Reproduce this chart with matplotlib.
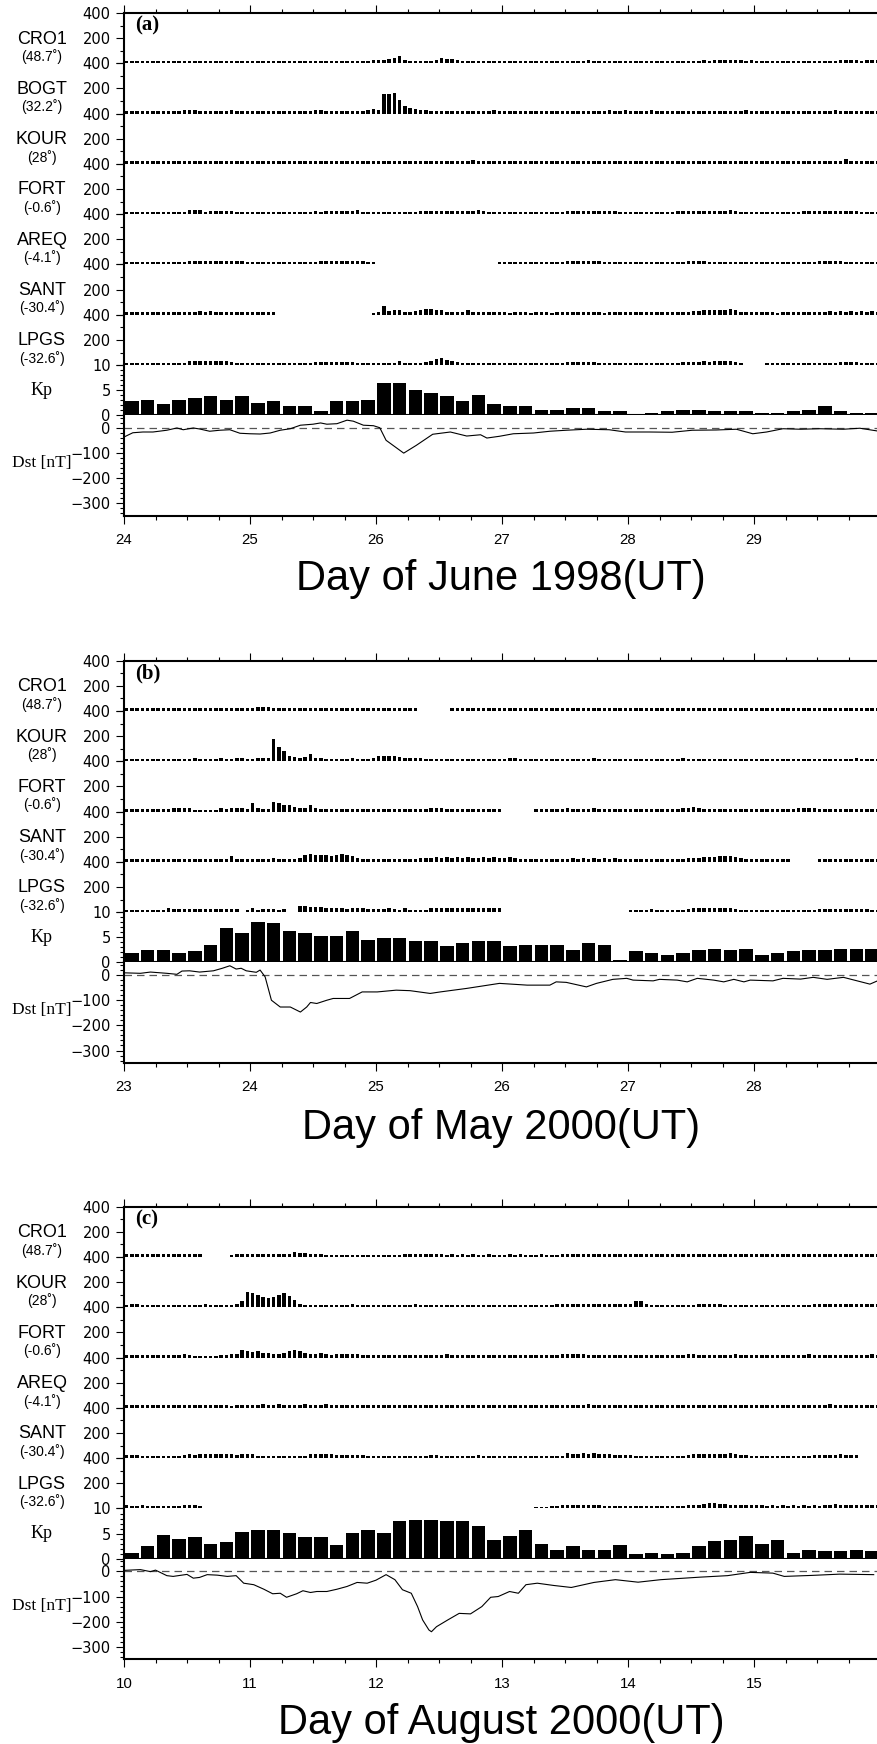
import numpy as np
import matplotlib
matplotlib.use('Agg')
import matplotlib.pyplot as plt
from matplotlib.ticker import MultipleLocator, FixedLocator, FuncFormatter

# hourly station values, 6 days x 24 h per string
# one char per hour: base-36 digit in steps of 5 units, '.' = no data
CRO1_a = "444434 443444 444444 444444  444434 444443 444444 444445  6578b5 443446 877644 443444  444434 444444 444454 444444  444444 434444 445455 555545  444444 444434 444455 554555"
BOGT_a = "444444 444445 554444 445444  444444 444444 554444 444458  5vvwlc 976544 444444 444464  444444 444444 444444 446446  444454 444444 444444 444464  444444 444444 444544 444444"
KOUR_a = "444444 444444 444444 454444  444444 444444 444444 444444  444444 444444 444444 644444  444444 444444 444444 444444  444444 454444 444444 444444  444444 444444 444447 444444"
FORT_a = "444444 444444 666455 555444  444444 444444 545555 556444  444444 445555 555555 565444  444444 444444 555555 555544  444444 444555 555555 565444  444444 444555 555555 554444"
AREQ_a = "444444 444444 555555 555554  444444 444444 455555 555544  ...... ...... ...... .....4  444444 444444 555555 544444  444444 444446 665444 444444  444444 444444 555554 444444"
SANT_a = "444444 444444 556565 545444  54454. ...... ...... .....3  4e6775 568998 855557 544444  434443 444344 444455 434444  444444 444445 667787 897544  444434 444445 556565 656565"
LPGS_a = "444444 444444 666666 665444  444444 444444 555555 554444  444464 444569 b86544 444444  444444 444444 555555 444444  444444 444455 556566 6754..  ..4444 444444 444455 554444"

CRO1_b = "444444 444444 444444 444445  567645 544444 444444 444444  445454 44.... ..4444 444444  444444 444444 444445 444444  444444 444444 455444 444454  444444 444444 454444 444444"
KOUR_b = "444444 444444 454444 544554  4555zn h9767c 654444 454445  898875 555444 444444 444444  466444 444444 444445 444444  444444 444454 444444 444444  444444 444444 444444 454444"
FORT_b = "444444 444555 533333 546554  d544gd aa766a 544444 444444  444444 444466 644444 444444  ...... 444444 644445 444444  444444 444455 754444 444444  444444 445555 444444 444444"
SANT_b = "444444 444445 555554 559555  554464 4456bc bbbabc b96444  454445 546667 676767 667676  676444 444555 565656 565644  444444 444446 667789 998644  444444 4..... 444444 444444"
LPGS_b = "444444 446555 555555 5555.3  645554 5..aa9 996776 566655  556546 444466 676666 667666  ...... ...... ...... ......  444454 444445 666666 665444  444444 444444 555555 555544"

CRO1_c = "444444 444445 454... ..3444  445555 548674 443333 333333  333334 444444 434343 433433  343433 343335 444444 444444  444444 444444 455444 444444  444444 444555 554444 444444"
KOUR_c = "455444 444444 444544 4445ap  mkhfhk nib644 444444 454444  444444 454444 444444 444444  444444 444455 555555 555555  5aa644 444444 455555 444444  444444 444445 555555 555555"
FORT_c = "444444 444445 433333 4456cb  9a8765 7bcb86 675455 555444  444444 444444 454444 444444  444444 444446 555544 444444  444444 444445 544444 446444  444444 444464 444444 444454"
AREQ_c = "444554 544444 445544 443455  556556 555565 556555 554445  454445 444445 445444 444444  444444 444445 555564 444444  444455 444444 555555 555554  445444 444455 556444 444444"
SANT_c = "555333 333335 656676 666567  644444 444446 777655 555544  444444 444455 444444 454444  444444 444444 867878 766555  544444 444445 667677 787554  444444 444445 555565 55...."
LPGS_c = "644544 444446 654... ......  ...... ...... ...... ......  ...... ...... ...... ......  ...... 333445 566656 544444  444444 444445 667897 766656  554545 454545 456765 555555"

# 3-hourly Kp
KP_a = [2.8, 3.1, 2.2, 3.1, 3.5, 3.9, 3.1, 3.9, 2.5, 2.8, 1.9, 1.9, 0.9, 2.8, 2.8, 3.1,
        6.4, 6.4, 5.1, 4.4, 3.8, 2.8, 4.1, 2.2, 1.8, 1.8, 1.1, 1.1, 1.4, 1.4, 0.8, 0.8,
        0.3, 0.5, 0.8, 1.1, 1.1, 0.8, 0.8, 0.8, 0.5, 0.5, 0.8, 1.1, 1.8, 0.8, 0.5, 0.5]
KP_b = [1.8, 2.5, 2.5, 1.8, 2.2, 3.5, 6.8, 5.8, 8.1, 7.8, 6.2, 5.8, 5.2, 5.2, 6.2, 4.5,
        4.8, 4.8, 4.2, 4.2, 3.2, 3.8, 4.2, 4.2, 3.2, 3.5, 3.5, 3.5, 2.5, 3.8, 3.5, 0.4,
        2.2, 1.8, 1.5, 1.8, 2.5, 2.7, 2.5, 2.7, 1.5, 1.8, 2.2, 2.5, 2.5, 2.7, 2.7, 2.7]
KP_c = [1.2, 2.6, 4.7, 4.0, 4.4, 3.0, 3.4, 5.4, 5.8, 5.8, 5.2, 4.4, 4.4, 2.7, 5.2, 5.8,
        5.2, 7.5, 7.8, 7.8, 7.5, 7.5, 6.5, 3.8, 4.5, 5.8, 3.0, 1.8, 2.5, 1.8, 1.8, 2.7,
        0.9, 1.2, 0.9, 1.2, 2.5, 3.5, 3.8, 4.5, 3.0, 3.8, 1.2, 1.8, 1.5, 1.5, 1.8, 1.5]

# Dst (day, nT)
DST_a_t = [24.0, 24.07, 24.15, 24.23, 24.34, 24.42, 24.47, 24.55, 24.60, 24.68, 24.76, 24.84, 24.92, 25.0,
           25.08, 25.16, 25.24, 25.32, 25.40, 25.50, 25.56, 25.61, 25.69, 25.77, 25.82, 25.90, 25.98, 26.03,
           26.08, 26.22, 26.32, 26.45, 26.59, 26.72, 26.83, 26.88, 26.98, 27.09, 27.25, 27.38, 27.51, 27.67,
           27.85, 27.98, 28.17, 28.35, 28.51, 28.70, 28.86, 28.99, 29.10, 29.23, 29.37, 29.52, 29.71, 29.84, 29.98]
DST_a_v = [-36, -19, -16, -16, -9, 0, -7, 0, -4, -13, -9, -7, -21, -23,
           -24, -20, -9, -3, 11, 15, 20, 15, 17, 31, 27, 11, 9, 1,
           -49, -100, -69, -25, -16, -32, -27, -40, -33, -23, -20, -13, -9, -5,
           -7, -16, -16, -17, -9, -8, -5, -23, -16, -3, -5, -3, -5, -1, -12]
DST_b_t = [23.0, 23.13, 23.21, 23.34, 23.42, 23.46, 23.52, 23.60, 23.71, 23.78, 23.84, 23.89, 23.93, 23.97,
           24.05, 24.08, 24.12, 24.17, 24.24, 24.32, 24.40, 24.45, 24.48, 24.53, 24.61, 24.66, 24.79, 24.89,
           25.01, 25.16, 25.27, 25.43, 25.51, 25.72, 25.98, 26.20, 26.38, 26.43, 26.51, 26.67, 26.75, 26.88,
           26.99, 27.04, 27.20, 27.25, 27.39, 27.47, 27.55, 27.68, 27.76, 27.84, 27.92, 27.97, 28.15, 28.23,
           28.37, 28.47, 28.58, 28.71, 28.92, 28.98]
DST_b_v = [9, 7, 12, 7, 3, 16, 17, 12, 17, 27, 37, 24, 27, 17,
           11, 20, -7, -100, -127, -127, -147, -127, -109, -113, -100, -93, -93, -67,
           -67, -60, -62, -73, -67, -53, -33, -40, -40, -27, -29, -47, -33, -17,
           -13, -20, -23, -17, -20, -27, -13, -20, -27, -17, -27, -20, -23, -13,
           -16, -9, -17, -9, -36, -23]
DST_c_t = [10.0, 10.13, 10.21, 10.25, 10.34, 10.39, 10.50, 10.55, 10.60, 10.66, 10.74, 10.82, 10.89, 10.95,
           11.03, 11.11, 11.18, 11.24, 11.29, 11.37, 11.42, 11.48, 11.53, 11.61, 11.69, 11.77, 11.85, 11.93,
           12.0, 12.08, 12.15, 12.21, 12.28, 12.33, 12.37, 12.42, 12.44, 12.48, 12.57, 12.66, 12.75, 12.84,
           12.91, 12.97, 13.06, 13.13, 13.19, 13.28, 13.41, 13.55, 13.73, 13.90, 14.08, 14.26, 14.57, 14.79,
           14.97, 15.15, 15.24, 15.46, 15.68, 15.95]
DST_c_v = [4, 7, -1, 5, -17, -20, -12, -27, -24, -13, -15, -20, -17, -47,
           -53, -71, -89, -87, -103, -89, -77, -84, -80, -80, -71, -60, -44, -47,
           -35, -13, -33, -73, -87, -140, -193, -233, -240, -220, -193, -167, -169, -140,
           -103, -100, -80, -87, -53, -47, -56, -64, -44, -33, -43, -33, -23, -17,
           -4, -7, -20, -16, -11, -13]


def hours(s):
    s = s.replace(' ', '')
    if len(s) != 144:
        print('length', len(s))
        s = (s + '.' * 144)[:144]
    return np.array([np.nan if c == '.' else int(c, 36) * 5 for c in s], dtype=float)


W, H = 878, 1744
X0 = 124          # left axis, px
DAYPX = 126       # px per day
ROW = 50.3        # px per station band

SANS = ['Liberation Sans', 'DejaVu Sans']
SERIF = ['Liberation Serif', 'DejaVu Serif']

fig = plt.figure(figsize=(W / 100, H / 100), dpi=100)


def frac(y0, y1):
    return [X0 / W, 1 - y1 / H, (W - X0) / W, (y1 - y0) / H]


def base_style(ax):
    for s in ['right', 'bottom', 'top']:
        ax.spines[s].set_visible(False)
    ax.spines['left'].set_linewidth(1.5)
    ax.tick_params(axis='y', which='major', direction='out', length=5.5, width=0.8,
                   labelsize=10.5, pad=4)
    ax.tick_params(axis='y', which='minor', direction='out', length=3, width=0.8)
    ax.tick_params(axis='x', which='both', bottom=False, top=False,
                   labelbottom=False, labeltop=False)
    for lab in ax.get_yticklabels():
        lab.set_family('DejaVu Sans')


def draw_panel(top, day0, stations, kp, dst_t, dst_v, tag, xlabel, xlab_base):
    xlim = (day0, day0 + (W - X0) / DAYPX)
    th = day0 + (np.arange(144) + 0.5) / 24
    y = top
    for i, (name, lat, vals) in enumerate(stations):
        ax = fig.add_axes(frac(y, y + ROW))
        v = hours(vals)
        ok = ~np.isnan(v)
        ax.bar(th[ok], v[ok], width=0.66 / 24, color='k', linewidth=0)
        ax.set_xlim(*xlim)
        ax.set_ylim(0, 400)
        ax.set_yticks([0, 200, 400])
        ax.set_yticklabels(['', '200', '400'])
        ax.yaxis.set_minor_locator(FixedLocator([100, 300]))
        base_style(ax)
        if i == 0:
            ax.spines['top'].set_visible(True)
            ax.spines['top'].set_linewidth(1.5)
            ax.xaxis.set_major_locator(MultipleLocator(1))
            ax.xaxis.set_minor_locator(MultipleLocator(0.25))
            ax.tick_params(axis='x', which='major', top=True, direction='out',
                           length=5.5, width=0.8, labeltop=False)
            ax.tick_params(axis='x', which='minor', top=True, direction='out',
                           length=2.8, width=0.8)
            fig.text(135 / W, 1 - (top + 12.5) / H, tag, ha='left', va='center',
                     fontsize=15, fontweight='bold', family=SERIF)
        fig.text(42 / W, 1 - (y + 26) / H, name, ha='center', va='center',
                 fontsize=13, family=SANS)
        fig.text(42 / W, 1 - (y + 43.5) / H, '(' + lat + '\u02da)', ha='center',
                 va='center', fontsize=10, family=SANS)
        y += ROW

    # Kp band
    ax = fig.add_axes(frac(y, y + ROW))
    tk = day0 + (np.arange(len(kp)) + 0.5) * 0.125
    ax.bar(tk, kp, width=0.107, color='k', linewidth=0)
    ax.set_xlim(*xlim)
    ax.set_ylim(0, 10)
    ax.set_yticks([0, 5, 10])
    ax.yaxis.set_minor_locator(MultipleLocator(1))
    base_style(ax)
    ax.spines['bottom'].set_visible(True)
    ax.spines['bottom'].set_linewidth(1.5)
    ax.xaxis.set_major_locator(MultipleLocator(1))
    ax.tick_params(axis='x', which='major', bottom=True, direction='out',
                   length=5, width=0.8, labelbottom=False)
    fig.text(42 / W, 1 - (y + 25.5) / H, 'Kp', ha='center', va='center',
             fontsize=13, family=SERIF)
    y += ROW

    # Dst band
    ax = fig.add_axes(frac(y, y + 2 * ROW))
    ax.axhline(0, color='#555555', lw=0.9, ls=(0, (6, 4)))
    ax.plot(dst_t, dst_v, color='k', lw=0.8)
    ax.set_xlim(*xlim)
    ax.set_ylim(-350, 50)
    ax.set_yticks([-300, -200, -100, 0])
    ax.yaxis.set_minor_locator(MultipleLocator(20))
    base_style(ax)
    ax.spines['bottom'].set_visible(True)
    ax.spines['bottom'].set_linewidth(1.5)
    ax.xaxis.set_major_locator(MultipleLocator(1))
    ax.xaxis.set_minor_locator(MultipleLocator(0.25))
    ax.xaxis.set_major_formatter(FuncFormatter(lambda v, p: '%d' % round(v)))
    ax.tick_params(axis='x', which='major', bottom=True, direction='out',
                   length=5.5, width=0.8, labelbottom=True, labelsize=10.8, pad=7)
    ax.tick_params(axis='x', which='minor', bottom=True, direction='out',
                   length=2.8, width=0.8)
    for lab in ax.get_xticklabels():
        lab.set_family(SANS)
    fig.text(42 / W, 1 - (y + ROW - 3) / H, 'Dst [nT]', ha='center', va='center',
             fontsize=12.5, family=SERIF)

    fig.text((X0 + W) / 2 / W, 1 - xlab_base / H, xlabel, ha='center', va='baseline',
             fontsize=30, family=SANS)


draw_panel(13, 24,
           [('CRO1', '48.7', CRO1_a), ('BOGT', '32.2', BOGT_a), ('KOUR', '28', KOUR_a),
            ('FORT', '-0.6', FORT_a), ('AREQ', '-4.1', AREQ_a), ('SANT', '-30.4', SANT_a),
            ('LPGS', '-32.6', LPGS_a)],
           KP_a, DST_a_t, DST_a_v, '(a)', 'Day of June 1998(UT)', 590)

draw_panel(660.7, 23,
           [('CRO1', '48.7', CRO1_b), ('KOUR', '28', KOUR_b), ('FORT', '-0.6', FORT_b),
            ('SANT', '-30.4', SANT_b), ('LPGS', '-32.6', LPGS_b)],
           KP_b, DST_b_t, DST_b_v, '(b)', 'Day of May 2000(UT)', 1139)

draw_panel(1206.7, 10,
           [('CRO1', '48.7', CRO1_c), ('KOUR', '28', KOUR_c), ('FORT', '-0.6', FORT_c),
            ('AREQ', '-4.1', AREQ_c), ('SANT', '-30.4', SANT_c), ('LPGS', '-32.6', LPGS_c)],
           KP_c, DST_c_t, DST_c_v, '(c)', 'Day of August 2000(UT)', 1734)

fig.savefig('out.png', dpi=100)
